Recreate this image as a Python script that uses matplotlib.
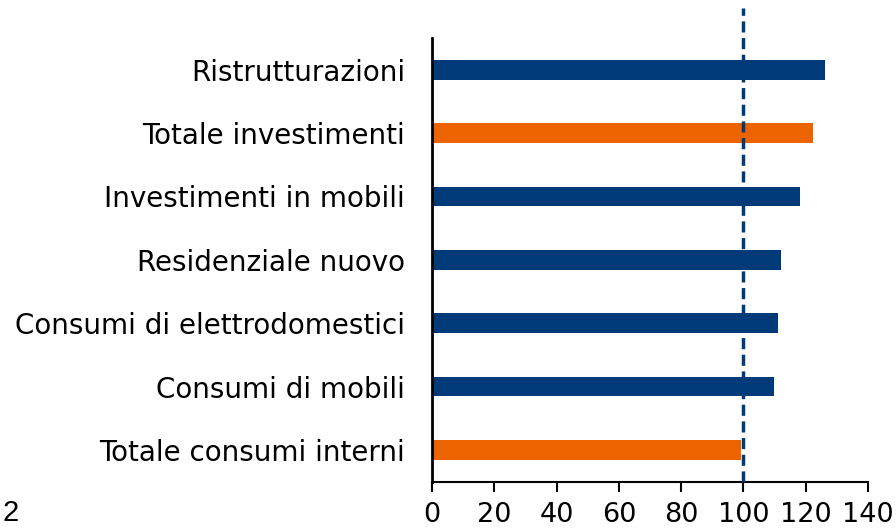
import matplotlib
matplotlib.use("Agg")
import matplotlib.pyplot as plt

categories = ["Totale consumi interni", "Consumi di mobili", "Consumi di elettrodomestici",
              "Residenziale nuovo", "Investimenti in mobili", "Totale investimenti",
              "Ristrutturazioni"]
values = [99.3, 109.9, 111.0, 112.0, 118.3, 122.2, 126.2]
highlight = [True, False, False, False, False, True, False]
xticks = [0, 20, 40, 60, 80, 100, 120, 140]
ref_value = 100

blue = "#003a78"
orange = "#eb6400"

plt.rcParams['font.family'] = ['DejaVu Sans']

fig = plt.figure(figsize=(8.96, 5.31), dpi=100)
ax = fig.add_axes([432/896, 1-481.7/531, (868-432)/896, (481.7-38)/531])

ypos = list(range(len(categories)))
colors = [orange if h else blue for h in highlight]
ax.barh(ypos, values, height=0.31, color=colors, zorder=2)

ax.set_xlim(0, 140)
ax.set_ylim(-0.5, 6.5)
ax.set_xticks(xticks)
ax.set_xticklabels([str(t) for t in xticks], fontsize=19.5)
ax.set_yticks(ypos)
ax.set_yticklabels(categories, fontsize=20)
ax.tick_params(axis='y', length=0, pad=19.5)
ax.tick_params(axis='x', length=7, width=1.5, direction='out', pad=7.5)

for s in ['top', 'right']:
    ax.spines[s].set_visible(False)
ax.spines['left'].set_linewidth(2)
ax.spines['bottom'].set_linewidth(1.5)

ax.plot([ref_value, ref_value], [-0.5, 6.97], color=blue, lw=2.5,
        linestyle=(0, (3.2, 1.6)), clip_on=False, zorder=3)

fig.text(2/896, 1-527/531, "2", fontsize=21, family='Liberation Sans', va='bottom', ha='left')

fig.savefig("out.png", dpi=100)
